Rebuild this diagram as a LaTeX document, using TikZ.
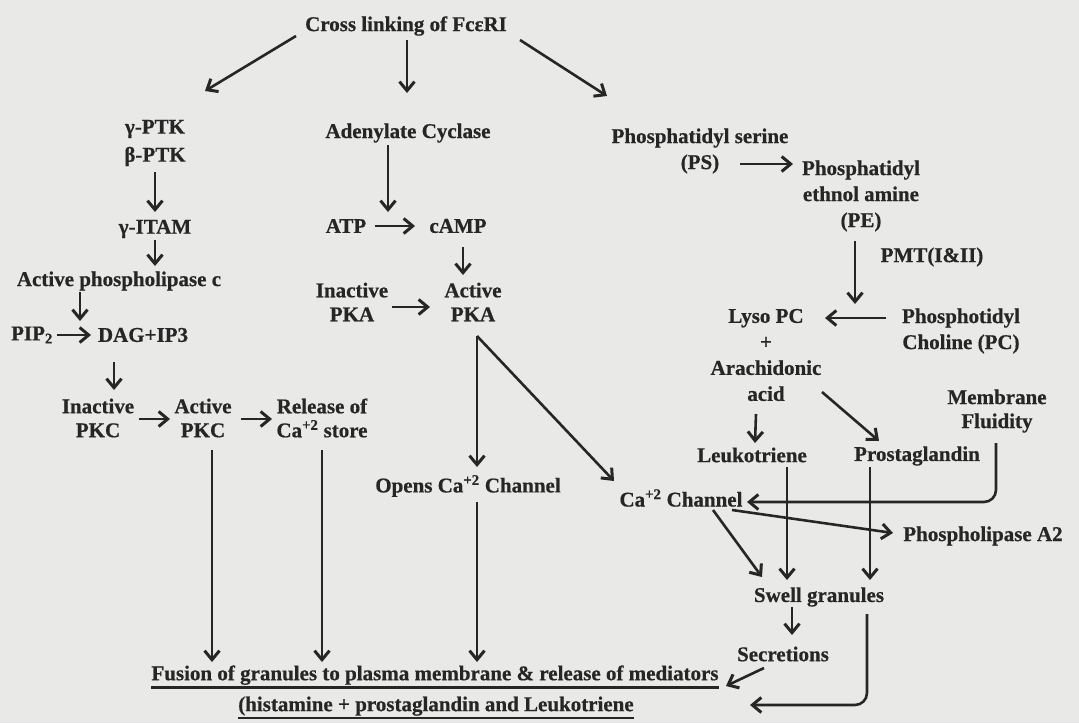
\documentclass[tikz,border=0pt]{standalone}
\usepackage{fontspec}
\setmainfont{Liberation Serif}[BoldFeatures={FakeBold=0.6}]
\usetikzlibrary{arrows.meta}
\definecolor{paper}{HTML}{E9E9E7}
\definecolor{ink}{HTML}{262626}
% thick underline for the closing statement
\newcommand{\ulbar}[1]{\leavevmode\vtop{\hbox{#1}\kern1.5pt\hrule height 2.2pt}}

\begin{document}
\begin{tikzpicture}[x=1pt,y=-1pt,
  txt/.style={inner sep=0pt, align=center, text=ink, font=\bfseries\fontsize{21}{26}\selectfont},
  tight/.style={font=\bfseries\fontsize{21}{24}\selectfont},
  wide/.style={font=\bfseries\fontsize{21}{28}\selectfont},
  arr/.style={draw=ink, line width=2.6pt, -{Straight Barb[length=9pt,width=15pt,line width=3pt]}},
  ln/.style={draw=ink, line width=2.6pt}]
\fill[paper] (0,0) rectangle (1079,723);
\path[use as bounding box] (0,0) rectangle (1079,723);

% ---- top
\node[txt] (cross) at (406,26) {Cross linking of FcεRI};

% ---- PKC branch
\node[txt,wide] (ptk) at (155,143) {γ-PTK\\β-PTK};
\node[txt] (itam) at (155,229) {γ-ITAM};
\node[txt] (plc) at (119,281) {Active phospholipase c};
\node[txt] (pip) at (32,335) {PIP\textsubscript{2}};
\node[txt] (dag) at (143,335) {DAG+IP3};
\node[txt,tight] (ipkc) at (98,418) {Inactive\\PKC};
\node[txt,tight] (apkc) at (203,418) {Active\\PKC};
\node[txt,tight] (rel) at (322,418) {Release of\\Ca\textsuperscript{+2} store};

% ---- PKA branch
\node[txt] (ac) at (408,133) {Adenylate Cyclase};
\node[txt] (atp) at (346,226) {ATP};
\node[txt] (camp) at (458,226) {cAMP};
\node[txt,tight] (ipka) at (352,302) {Inactive\\PKA};
\node[txt,tight] (apka) at (473,302) {Active\\PKA};
\node[txt] (opens) at (468,486) {Opens Ca\textsuperscript{+2} Channel};

% ---- phospholipid branch
\node[txt] (ps) at (700,151) {Phosphatidyl serine\\(PS)};
\node[txt] (pe) at (861,196) {Phosphatidyl\\ethnol amine\\(PE)};
\node[txt] (pmt) at (932,257) {PMT(I\&II)};
\node[txt] (lyso) at (766,355) {Lyso PC\\+\\Arachidonic\\acid};
\node[txt] (pc) at (961,331) {Phosphotidyl\\Choline (PC)};
\node[txt,tight] (mf) at (997,411) {Membrane\\Fluidity};
\node[txt] (leuko) at (752,455) {Leukotriene};
\node[txt] (prosta) at (917,456) {Prostaglandin};
\node[txt] (ca) at (681,498) {Ca\textsuperscript{+2} Channel};
\node[txt] (pla) at (983,536) {Phospholipase A2};
\node[txt] (swell) at (819,597) {Swell granules};
\node[txt] (secr) at (783,654) {Secretions};

% ---- outcome
\node[txt] (fusion) at (435,677) {\ulbar{Fusion of granules to plasma membrane \& release of mediators}};
\node[txt] (hist) at (436,708) {\ulbar{(histamine + prostaglandin and Leukotriene}};

% ---- connectors from the receptor
\draw[arr] ([shift={(-110,10)}]cross.center) -- ([shift={(50,-52)}]ptk.center);
\draw[arr] ([shift={(1,14)}]cross.center) -- ([shift={(-1,-40)}]ac.center);
\draw[arr] ([shift={(114,14)}]cross.center) -- ([shift={(-93,-55)}]ps.center);

% ---- PKC branch
\draw[arr] ([shift={(0,29)}]ptk.center) -- ([shift={(0,-17)}]itam.center);
\draw[arr] ([shift={(0,11)}]itam.center) -- ([shift={(36,-15)}]plc.center);
\draw[arr] ([shift={(-39,11)}]plc.center) -- ([shift={(-63,-14)}]dag.center);
\draw[arr] ([shift={(25,0)}]pip.center) -- ([shift={(-52,0)}]dag.center);
\draw[arr] ([shift={(-29,27)}]dag.center) -- ([shift={(16,-28)}]ipkc.center);
\draw[arr] ([shift={(41,1)}]ipkc.center) -- ([shift={(-33,1)}]apkc.center);
\draw[arr] ([shift={(38,1)}]apkc.center) -- ([shift={(-50,1)}]rel.center);
\draw[arr] ([shift={(9,32)}]apkc.center) -- ([shift={(-223,-15)}]fusion.center);
\draw[arr] ([shift={(0,32)}]rel.center) -- ([shift={(-113,-15)}]fusion.center);

% ---- PKA branch
\draw[arr] ([shift={(-20,12)}]ac.center) -- ([shift={(-70,-14)}]camp.center);
\draw[arr] ([shift={(29,0)}]atp.center) -- ([shift={(-43,0)}]camp.center);
\draw[arr] ([shift={(5,21)}]camp.center) -- ([shift={(-10,-27)}]apka.center);
\draw[arr] ([shift={(40,5)}]ipka.center) -- ([shift={(-43,5)}]apka.center);
\draw[arr] ([shift={(4,34)}]apka.center) -- ([shift={(9,-19)}]opens.center);
\draw[arr] ([shift={(4,34)}]apka.center) -- ([shift={(-67,-17)}]ca.center);
\draw[arr] ([shift={(9,16)}]opens.center) -- ([shift={(42,-15)}]fusion.center);

% ---- phospholipid branch
\draw[arr] ([shift={(40,13)}]ps.center) -- ([shift={(-68,-32)}]pe.center);
\draw[arr] ([shift={(-6,45)}]pe.center) -- ([shift={(-106,-27)}]pc.center);
\draw[arr] ([shift={(-75,-13)}]pc.center) -- ([shift={(59,-37)}]lyso.center);
\draw[ln] ([shift={(34,37)}]pc.center) -- ([shift={(-2,-43)}]mf.center);
\draw[arr] ([shift={(-10,59)}]lyso.center) -- ([shift={(3,-12)}]leuko.center);
\draw[arr] ([shift={(56,37)}]lyso.center) -- ([shift={(-38,-15)}]prosta.center);
\draw[arr, rounded corners=12pt] ([shift={(-1,32)}]mf.center) |- ([shift={(66,4)}]ca.center);
\draw[arr] ([shift={(35,12)}]leuko.center) -- ([shift={(-32,-17)}]swell.center);
\draw[arr] ([shift={(-47,11)}]prosta.center) -- ([shift={(51,-17)}]swell.center);
\draw[arr] ([shift={(32,12)}]ca.center) -- ([shift={(-57,-20)}]swell.center);
\draw[arr] ([shift={(51,12)}]ca.center) -- ([shift={(-90,-3)}]pla.center);
\draw[arr] ([shift={(-27,10)}]swell.center) -- ([shift={(9,-19)}]secr.center);
\draw[arr] ([shift={(-19,14)}]secr.center) -- ([shift={(291,9)}]fusion.center);
\draw[arr, rounded corners=12pt] ([shift={(48,17)}]swell.center) |- ([shift={(315,28)}]fusion.center);
\end{tikzpicture}
\end{document}
